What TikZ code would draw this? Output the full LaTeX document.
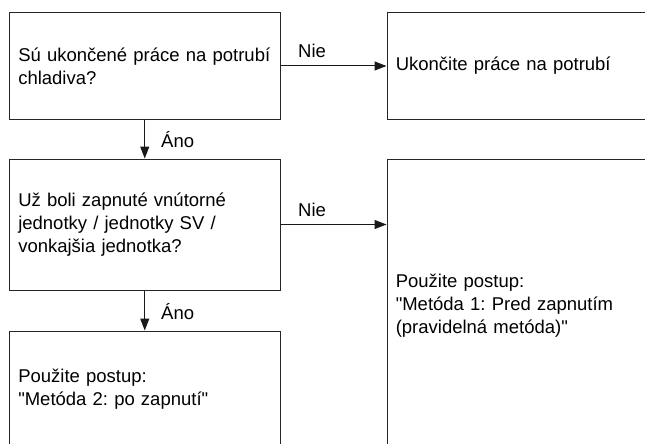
\documentclass[tikz,border=0pt]{standalone}
\usepackage{fontspec}
\setmainfont{Liberation Sans}[Ligatures=TeXOff]
\usetikzlibrary{arrows.meta}
\frenchspacing
\begin{document}
\begin{tikzpicture}[x=1pt,y=-1pt,
  box/.style={draw=black!85, line width=1pt, rectangle, align=left, inner xsep=8.5pt, inner ysep=0pt,
    font=\fontsize{18.5}{23}\selectfont\frenchspacing, text width=253pt, minimum width=270.5pt},
  arr/.style={draw=black!90, line width=1pt, -{Triangle[length=12pt,width=9pt]}},
  lbl/.style={anchor=base west, font=\fontsize{18.5}{23}\selectfont, inner sep=0pt}]
\useasboundingbox (0,0) rectangle (645,444);
\clip (0,0) rectangle (645,444);
\node[box, minimum height=106pt] (b1) at (144.75,66) {Sú ukončené práce na potrubí\\chladiva?};
\node[box, minimum height=106pt] (b2) at (522.25,66) {Ukončite práce na potrubí};
\node[box, minimum height=131pt] (b3) at (144.75,224.5) {Už boli zapnuté vnútorné\\jednotky / jednotky SV /\\vonkajšia jednotka?};
\node[box, minimum height=294pt] (b4) at (522.25,306) {Použite postup:\\"Metóda 1: Pred zapnutím\\(pravidelná metóda)"};
\node[box, minimum height=117pt] (b5) at (144.75,389.5) {Použite postup:\\"Metóda 2: po zapnutí"};
\draw[arr] (b1.east) -- (b2.west);
\draw[arr] (b1.south) -- (b3.north);
\draw[arr] (b3.east) -- (b3.east -| b4.west);
\draw[arr] (b3.south) -- (b5.north);
\node[lbl] (n1) at (298,58) {Nie};
\node[lbl] (n2) at (298,216.5) {Nie};
\node[lbl] (a1) at (161,147) {Áno};
\node[lbl] (a2) at (161,319) {Áno};
\end{tikzpicture}
\end{document}
